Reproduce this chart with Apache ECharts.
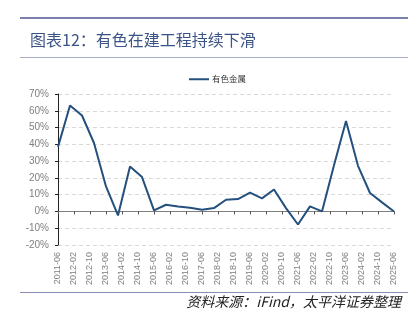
<!DOCTYPE html>
<html><head><meta charset="utf-8">
<script src="https://cdn.jsdelivr.net/npm/echarts@6/dist/echarts.min.js"></script>
<style>html,body{margin:0;padding:0;background:#fff;}#c{width:413px;height:327px;}</style>
</head><body><div id="c"></div>
<script>
// Semi-annual observations
const dates = ['2011-06','2011-12','2012-06','2012-12','2013-06','2013-12','2014-06','2014-12','2015-06','2015-12',
  '2016-06','2016-12','2017-06','2017-12','2018-06','2018-12','2019-06','2019-12','2020-06','2020-12',
  '2021-06','2021-12','2022-06','2022-12','2023-06','2023-12','2024-06','2024-12','2025-06'];
const values = [38.5,63.2,57.2,40.8,14.9,-2.4,26.8,20.5,0.6,4.0,
  3.0,2.2,1.0,2.0,7.0,7.4,11.2,7.8,13.1,2.0,
  -7.8,3.0,0.0,27.5,53.9,27.2,11.0,5.4,0.0];
const seriesName = '有色金属';
const titleText = '图表12：有色在建工程持续下滑';
const sourceText = '资料来源：iFind，太平洋证券整理';
const yTicks = {min: -20, max: 70, step: 10};

// monthly category axis
const months = [];
for (let y = 2011; y <= 2025; y++) {
  for (let m = 1; m <= 12; m++) {
    if ((y === 2011 && m < 6) || (y === 2025 && m > 6)) continue;
    months.push(y + '-' + (m < 10 ? '0' + m : '' + m));
  }
}

const chart = echarts.init(document.getElementById('c'), null, {renderer: 'canvas'});
const CJK = '"Noto Sans CJK SC", "Noto Sans", sans-serif';
chart.setOption({
  animation: false,
  textStyle: {fontFamily: CJK},
  title: {
    text: titleText, left: 25, top: 27,
    textStyle: {fontSize: 16, fontWeight: 'normal', color: '#3b5486', fontFamily: CJK}
  },
  graphic: [
    {type: 'line', shape: {x1: 20, y1: 18, x2: 408, y2: 18}, style: {stroke: '#7b7fae', lineWidth: 2}},
    {type: 'line', shape: {x1: 20, y1: 57.5, x2: 408, y2: 57.5}, style: {stroke: '#a9acc9', lineWidth: 1}},
    {type: 'line', shape: {x1: 20, y1: 292.5, x2: 408, y2: 292.5}, style: {stroke: '#8a8db6', lineWidth: 1}},
    {type: 'line', shape: {x1: 55, y1: 211.5, x2: 58, y2: 211.5}, style: {stroke: '#7f7f7f', lineWidth: 1}},
    {type: 'text', right: 12, top: 295, style: {text: sourceText, fontSize: 14, fontStyle: 'italic', fill: '#222', fontFamily: CJK}}
  ],
  legend: {
    left: 184, top: 70, itemWidth: 20, itemHeight: 2, icon: 'rect', itemGap: 4,
    textStyle: {fontSize: 8.5, color: '#333', fontFamily: CJK, padding: [0,0,0,-2]},
    data: [seriesName]
  },
  grid: {left: 58, right: 19, top: 94, bottom: 82, containLabel: false},
  xAxis: [
    {
      type: 'category', data: months, boundaryGap: false, position: 'bottom',
      axisLine: {show: false, onZero: false}, axisTick: {show: false},
      axisLabel: {interval: 7, rotate: 90, fontSize: 9, color: '#7f7f7f', margin: 7, fontFamily: 'Liberation Sans, Arial, sans-serif'},
      splitLine: {show: false}
    },
    {
      type: 'category', data: months, boundaryGap: false, position: 'bottom',
      axisLine: {show: true, onZero: true, onZeroAxisIndex: 0, lineStyle: {color: '#7f7f7f', width: 1}},
      axisTick: {show: true, interval: 7, length: 3, alignWithLabel: true, lineStyle: {color: '#555'}},
      axisLabel: {show: false}, splitLine: {show: false}
    }
  ],
  yAxis: {
    type: 'value', min: yTicks.min, max: yTicks.max, interval: yTicks.step,
    axisLine: {show: true, lineStyle: {color: '#222', width: 1}},
    axisTick: {show: true, length: 3, lineStyle: {color: '#222'}},
    axisLabel: {formatter: '{value}%', fontSize: 10, color: '#7f7f7f', margin: 9, fontFamily: 'Liberation Sans, Arial, sans-serif'},
    splitLine: {show: true, lineStyle: {type: [4, 3], color: '#d9d9d9', width: 1}}
  },
  series: [{
    name: seriesName, type: 'line', xAxisIndex: 0, yAxisIndex: 0,
    data: dates.map((d, i) => [d, values[i]]),
    symbol: 'none', lineStyle: {color: '#24507e', width: 2}, itemStyle: {color: '#24507e'}
  }]
});
</script></body></html>
